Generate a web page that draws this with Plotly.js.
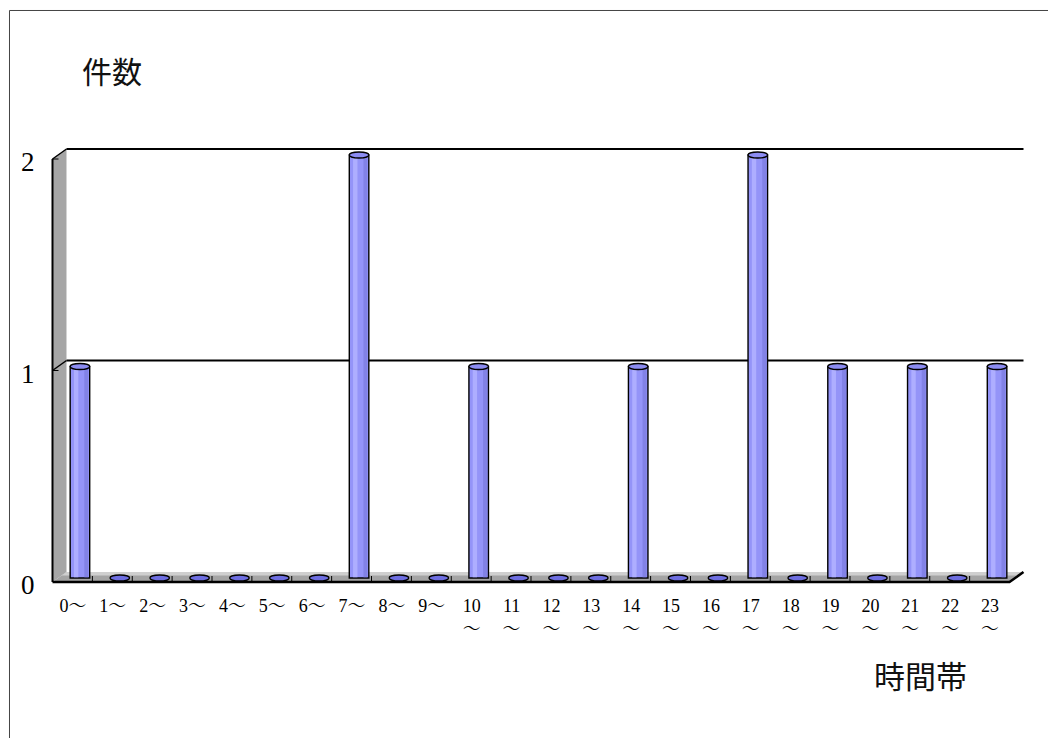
<!DOCTYPE html>
<html>
<head>
<meta charset="utf-8">
<script src="https://cdn.plot.ly/plotly-3.0.1.min.js"></script>
<style>
html,body{margin:0;padding:0;background:#fff;}
#chart{width:1048px;height:738px;}
</style>
</head>
<body>
<div id="chart"></div>
<script>
// ---- data ----
const categories = ["0〜","1〜","2〜","3〜","4〜","5〜","6〜","7〜","8〜","9〜",
  "10<br>〜","11<br>〜","12<br>〜","13<br>〜","14<br>〜","15<br>〜","16<br>〜","17<br>〜",
  "18<br>〜","19<br>〜","20<br>〜","21<br>〜","22<br>〜","23<br>〜"];
const counts = [1,0,0,0,0,0,0,2,0,0,1,0,0,0,1,0,0,2,0,1,0,1,0,1];
const yTicks = [0,1,2];
const yTitle = "件数";
const xTitle = "時間帯";

// ---- geometry helpers (layout only) ----
const W = 1048, H = 738;
const L = 60, R = 1017, T = 130, B = 585;
const zeroPx = 578, unitPx = 211.5;
const yMin = -(B - zeroPx) / unitPx, yMax = (zeroPx - T) / unitPx;
const px = x => (x - L) / (R - L);
const py = y => (B - y) / (B - T);
const catW = (R - L) / categories.length;
const serif = '"Liberation Serif", "Noto Serif CJK JP", "Noto Sans CJK JP", serif';
const cjk = '"Noto Sans CJK JP", sans-serif';

const shapes = [];
function pathP(pts){ return pts.map((p,i)=>(i?'L':'M')+px(p[0]).toFixed(5)+','+py(p[1]).toFixed(5)).join(' ')+' Z'; }
function lineP(pts){ return pts.map((p,i)=>(i?'L':'M')+px(p[0]).toFixed(5)+','+py(p[1]).toFixed(5)).join(' '); }

// outer border
shapes.push({type:'path', xref:'paper', yref:'paper', path: lineP([[9.5,H+5],[9.5,10.5],[W+5,10.5]]), line:{color:'#444', width:1}, layer:'below'});

// 3D depth offsets (front / back planes)
const frontDx = -7.5, frontDy = 4, backDx = 6.5, backDy = -6;
const topFront = zeroPx + frontDy - unitPx*Math.max(...yTicks);
const topBack = zeroPx + backDy - unitPx*Math.max(...yTicks);
const floorFront = zeroPx + frontDy, floorBack = zeroPx + backDy;
const leftFront = L + frontDx, leftBack = L + backDx;
const rightFront = R + frontDx, rightBack = R + backDx;

// left wall
shapes.push({type:'path', xref:'paper', yref:'paper', path: pathP([[leftFront,topFront],[leftBack,topBack],[leftBack,floorBack],[leftFront,floorFront]]), fillcolor:'#a6a6a6', line:{width:0}, layer:'below'});
// floor
shapes.push({type:'path', xref:'paper', yref:'paper', path: pathP([[leftFront,floorFront],[rightFront,floorFront],[rightBack,floorBack],[leftBack,floorBack]]), fillcolor:'#a4a4a4', line:{width:0}, layer:'below'});
shapes.push({type:'path', xref:'paper', yref:'paper', path: pathP([[leftBack,floorBack],[rightBack,floorBack],[rightBack-5,floorBack+3.5],[leftBack-5,floorBack+3.5]]), fillcolor:'#cfcfcf', line:{width:0}, layer:'below'});
// back gridlines
yTicks.forEach(v => {
  if (v === 0) return;
  const yb = zeroPx + backDy - unitPx*v, yf = zeroPx + frontDy - unitPx*v;
  shapes.push({type:'path', xref:'paper', yref:'paper', path: lineP([[leftBack,yb],[rightBack,yb]]), line:{color:'#000', width:2}, layer:'below'});
  shapes.push({type:'path', xref:'paper', yref:'paper', path: lineP([[leftFront,yf],[leftBack,yb]]), line:{color:'#000', width:1.5}, layer:'below'});
  shapes.push({type:'path', xref:'paper', yref:'paper', path: lineP([[leftFront,yf],[leftFront+6,yf]]), line:{color:'#000', width:1}, layer:'below'});
});
// left wall edge
shapes.push({type:'path', xref:'paper', yref:'paper', path: lineP([[leftFront,topFront],[leftFront,floorFront]]), line:{color:'#000', width:2}, layer:'below'});
// floor front edge
shapes.push({type:'path', xref:'paper', yref:'paper', path: lineP([[leftFront,floorFront],[rightFront,floorFront],[rightBack,floorBack]]), line:{color:'#000', width:2.5}, layer:'below'});
// category ticks on floor edge
for (let k = 1; k < categories.length; k++) {
  const xf = leftFront + catW*k;
  shapes.push({type:'path', xref:'paper', yref:'paper', path: lineP([[xf,floorFront-6],[xf,floorFront]]), line:{color:'#000', width:1}, layer:'below'});
}

// cylinder caps (tops) and zero disks, from data
const capH = 3/unitPx;
counts.forEach((v,i) => {
  shapes.push({type:'circle', xref:'x', yref:'y', x0:i-0.245, x1:i+0.245, y0:v-capH, y1:v+capH,
    fillcolor: v>0 ? '#8c8cf2' : '#6e6ee0', line:{color:'#000', width:1.3}, layer:'above'});
});

const barY = counts.map(v => v>0 ? v : null);
const traces = [
  {type:'bar', x:categories, y:barY, width:0.49, offset:-0.245, marker:{color:'#9494f8', line:{color:'#000', width:1.4}}, hoverinfo:'skip'},
  {type:'bar', x:categories, y:barY.map(v=>v===null?null:v-0.004), base:0.004, width:0.11, offset:-0.15, marker:{color:'#aeaeff', line:{width:0}}, hoverinfo:'skip'},
  {type:'bar', x:categories, y:barY.map(v=>v===null?null:v-0.004), base:0.004, width:0.1, offset:0.11, marker:{color:'#8282e6', line:{width:0}}, hoverinfo:'skip'}
];

const annotations = [];
yTicks.forEach(v => {
  annotations.push({xref:'paper', yref:'y', x:px(37), y:v - 7/unitPx, xanchor:'right', yanchor:'middle', showarrow:false,
    text:String(v), font:{family:serif, size:27, color:'#000'}});
});
annotations.push({xref:'paper', yref:'paper', x:px(112), y:py(70), xanchor:'center', yanchor:'middle', showarrow:false,
  text:yTitle, font:{family:cjk, size:30, color:'#111'}});
annotations.push({xref:'paper', yref:'paper', x:px(920), y:py(674), xanchor:'center', yanchor:'middle', showarrow:false,
  text:xTitle, font:{family:cjk, size:31, color:'#111'}});

const layout = {
  width:W, height:H,
  margin:{l:L, r:W-R, t:T, b:H-B, pad:0},
  paper_bgcolor:'#fff', plot_bgcolor:'rgba(0,0,0,0)',
  barmode:'overlay', showlegend:false,
  xaxis:{type:'category', range:[-0.5, categories.length-0.5], showgrid:false, zeroline:false, showline:false,
    ticks:'', tickfont:{family:serif, size:18, color:'#000'}, tickangle:0, ticklabelstandoff:8, ticklabelshift:-7, fixedrange:true},
  yaxis:{range:[yMin, yMax], showgrid:false, zeroline:false, showline:false, showticklabels:false, ticks:'', fixedrange:true},
  shapes:shapes, annotations:annotations
};

Plotly.newPlot('chart', traces, layout, {staticPlot:true, displayModeBar:false});
</script>
</body>
</html>
